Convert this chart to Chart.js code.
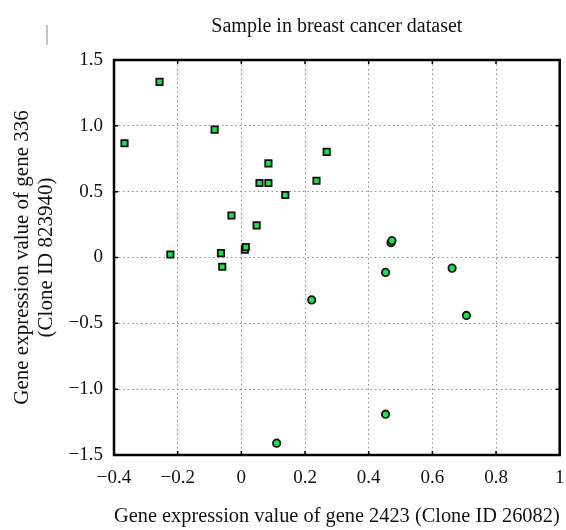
<!DOCTYPE html>
<html>
<head>
<meta charset="utf-8">
<script src="https://cdn.jsdelivr.net/npm/chart.js@4/dist/chart.umd.min.js"></script>
<style>
  html, body { margin: 0; padding: 0; background: #fff; }
  #wrap { position: relative; width: 566px; height: 530px; }
  #mark { position: absolute; left: 46px; top: 25px; width: 2px; height: 20px; background: #c4c4c4; }
</style>
</head>
<body>
<div id="wrap">
  <canvas id="scatter" width="566" height="530"></canvas>
  <div id="mark"></div>
</div>
<script>
// points drawn as squares
const squareX = [-0.367, -0.257, -0.084, -0.223, -0.064, -0.060, -0.031, 0.011, 0.014, 0.048, 0.057, 0.085, 0.085, 0.138, 0.236, 0.268];
const squareY = [0.868, 1.334, 0.971, 0.023, 0.033, -0.070, 0.319, 0.060, 0.080, 0.244, 0.566, 0.566, 0.715, 0.475, 0.583, 0.802];
// points drawn as circles
const circleX = [0.470, 0.473, 0.453, 0.662, 0.221, 0.707, 0.453, 0.111];
const circleY = [0.112, 0.128, -0.113, -0.081, -0.322, -0.440, -1.190, -1.410];

const xTicks = [-0.4, -0.2, 0, 0.2, 0.4, 0.6, 0.8, 1];
const xTickLabels = ['\u22120.4', '\u22120.2', '0', '0.2', '0.4', '0.6', '0.8', '1'];
const yTicks = [-1.5, -1, -0.5, 0, 0.5, 1, 1.5];
const yTickLabels = ['\u22121.5', '\u22121.0', '\u22120.5', '0', '0.5', '1.0', '1.5'];

const serif = 'Liberation Serif';
const toPoints = (xs, ys) => xs.map((x, i) => ({ x: x, y: ys[i] }));

// box around the plot + small inward tick marks
const frame = {
    id: 'frame',
    afterDatasetsDraw(chart) {
        const { ctx, chartArea: a, scales } = chart;
        ctx.save();
        ctx.strokeStyle = '#000';
        ctx.lineWidth = 1.5;
        ctx.beginPath();
        xTicks.forEach(v => {
            const px = scales.x.getPixelForValue(v);
            ctx.moveTo(px, a.bottom); ctx.lineTo(px, a.bottom - 4);
            ctx.moveTo(px, a.top); ctx.lineTo(px, a.top + 4);
        });
        yTicks.forEach(v => {
            const py = scales.y.getPixelForValue(v);
            ctx.moveTo(a.left, py); ctx.lineTo(a.left + 4, py);
            ctx.moveTo(a.right, py); ctx.lineTo(a.right - 4, py);
        });
        ctx.stroke();
        ctx.lineWidth = 2.5;
        ctx.strokeRect(a.left, a.top, a.right - a.left, a.bottom - a.top);
        ctx.restore();
    }
};

new Chart(document.getElementById('scatter'), {
    type: 'scatter',
    data: {
        datasets: [{
            data: toPoints(squareX, squareY),
            pointStyle: 'rect',
            pointRadius: 4.5,
            backgroundColor: '#20e04a',
            borderColor: '#111',
            borderWidth: 1.8
        }, {
            data: toPoints(circleX, circleY),
            pointStyle: 'circle',
            pointRadius: 3.7,
            backgroundColor: '#20e04a',
            borderColor: '#111',
            borderWidth: 1.8
        }]
    },
    options: {
        responsive: false,
        animation: false,
        layout: { padding: { right: 3 } },
        plugins: {
            legend: { display: false },
            tooltip: { enabled: false },
            title: {
                display: true,
                fullSize: false,
                text: 'Sample in breast cancer dataset',
                color: '#111',
                font: { family: serif, size: 20, weight: 'normal', lineHeight: 1.2 },
                padding: { top: 15, bottom: 21 }
            }
        },
        scales: {
            x: {
                type: 'linear',
                min: -0.4,
                max: 1,
                afterBuildTicks: s => { s.ticks = xTicks.map(v => ({ value: v })); },
                afterFit: s => { s.height = 75; s.paddingLeft = 0; s.paddingRight = 0; },
                grid: { color: '#8a8a8a', lineWidth: 1, drawTicks: false },
                border: { display: false, dash: [1.5, 3] },
                ticks: {
                    color: '#111',
                    padding: 12,
                    maxRotation: 0,
                    font: { family: serif, size: 19, lineHeight: 1.2 },
                    callback: v => xTickLabels[xTicks.indexOf(v)]
                },
                title: {
                    display: true,
                    text: 'Gene expression value of gene 2423 (Clone ID 26082)',
                    color: '#111',
                    font: { family: serif, size: 20.5, lineHeight: 1.2 },
                    padding: { bottom: 1 }
                }
            },
            y: {
                type: 'linear',
                min: -1.5,
                max: 1.5,
                afterBuildTicks: s => { s.ticks = yTicks.map(v => ({ value: v })); },
                afterFit: s => { s.width = 114; },
                grid: { color: '#8a8a8a', lineWidth: 1, drawTicks: false },
                border: { display: false, dash: [1.5, 3] },
                ticks: {
                    color: '#111',
                    padding: 11,
                    font: { family: serif, size: 19 },
                    callback: v => yTickLabels[yTicks.indexOf(v)]
                },
                title: {
                    display: true,
                    text: ['Gene expression value of gene 336', '(Clone ID 823940)'],
                    color: '#111',
                    font: { family: serif, size: 21, lineHeight: 1.15 },
                    padding: { top: 10 }
                }
            }
        }
    },
    plugins: [frame]
});
</script>
</body>
</html>
